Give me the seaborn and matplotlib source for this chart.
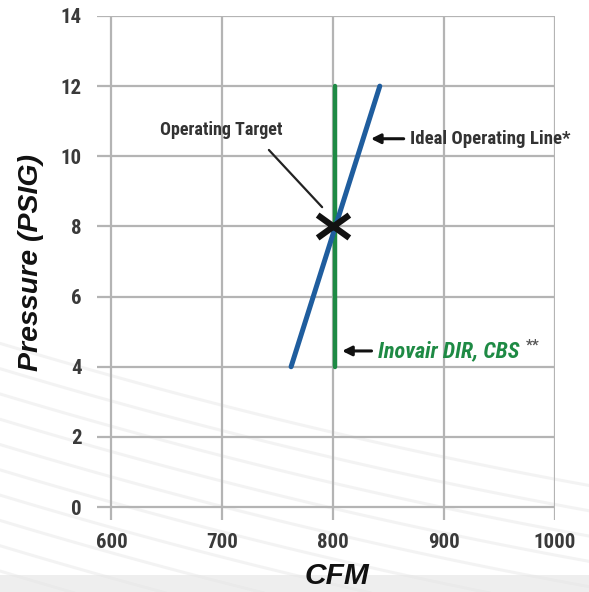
import matplotlib
matplotlib.use("Agg")
import matplotlib.pyplot as plt
from matplotlib.path import Path
from matplotlib.lines import Line2D
import seaborn as sns
import numpy as np
import pandas as pd

# Chart values
x_ticks = [600, 700, 800, 900, 1000]
y_ticks = [0, 2, 4, 6, 8, 10, 12, 14]

ideal_cfm = [762, 842]
ideal_psig = [4, 12]

inovair_cfm = [802, 802]
inovair_psig = [4, 12]

target_cfm = [800]
target_psig = [8]

sns.set_theme(style="white")
plt.rcParams["font.family"] = ["Liberation Sans", "DejaVu Sans"]

fig = plt.figure(figsize=(5.89, 5.92), dpi=100)
fig.patch.set_facecolor("white")

# faint decorative swooshes in the lower part of the page
t = np.linspace(0, 1, 60)
for start in np.linspace(0.42, -0.05, 12):
    yy = start - 0.30 * t + 0.06 * t ** 2
    fig.add_artist(Line2D(t, yy, transform=fig.transFigure, color="#e8e8e8",
                          lw=2.2, alpha=0.5, zorder=-5))
fig.add_artist(plt.Rectangle((0, 0), 1, 0.028, transform=fig.transFigure,
                             color="#e4e4e4", alpha=0.6, zorder=-4, lw=0))

ax = fig.add_axes([0.1647, 0.1216, 0.9423 - 0.1647, 0.973 - 0.1216])
ax.set_facecolor("none")

ax.set_xlim(587, 1000)
ax.set_ylim(-0.37, 14)

grid_color = "#b4b4b4"
for xv in x_ticks:
    ax.axvline(xv, color=grid_color, lw=1.6, zorder=0)
for yv in y_ticks:
    ax.axhline(yv, color=grid_color, lw=1.6, zorder=0)

for s in ax.spines.values():
    s.set_visible(False)

ideal = pd.DataFrame({"cfm": ideal_cfm, "psig": ideal_psig})
inovair = pd.DataFrame({"cfm": inovair_cfm, "psig": inovair_psig})
target = pd.DataFrame({"cfm": target_cfm, "psig": target_psig})

sns.lineplot(data=inovair, x="cfm", y="psig", ax=ax, color="#1e8a44", lw=3.2,
             sort=False, estimator=None, errorbar=None, zorder=3)
sns.lineplot(data=ideal, x="cfm", y="psig", ax=ax, color="#1f5d9e", lw=3.6,
             sort=False, estimator=None, errorbar=None, zorder=4)

# wide, flat cross for the operating target
cross = Path([(-1, -0.72), (1, 0.72), (-1, 0.72), (1, -0.72)],
             [Path.MOVETO, Path.LINETO, Path.MOVETO, Path.LINETO])
sns.scatterplot(data=target, x="cfm", y="psig", ax=ax, marker=cross, s=520,
                color="#111111", edgecolor="#111111", linewidth=4.5, zorder=5)

narrow = ["Roboto Condensed", "DejaVu Sans"]

ax.set_xticks(x_ticks)
ax.set_yticks(y_ticks)
ax.set_xticklabels([str(v) for v in x_ticks], family=narrow, fontweight="bold",
                   fontsize=15, color="#3a3a3a")
ax.set_yticklabels([str(v) for v in y_ticks], family=narrow, fontweight="bold",
                   fontsize=15, color="#3a3a3a")
ax.tick_params(axis="x", length=0, pad=9)
ax.tick_params(axis="y", length=0, pad=11)

ax.set_xlabel("CFM", fontsize=21.5, fontweight="bold", fontstyle="italic",
              color="#111111")
ax.xaxis.set_label_coords(0.524, -0.084)
ax.set_ylabel("Pressure (PSIG)", fontsize=20.5, fontweight="bold",
              fontstyle="italic", color="#111111")
ax.yaxis.set_label_coords(-0.115, 0.51)

# Operating target callout
ax.text(699, 10.75, "Operating Target", family=narrow, fontweight="bold",
        fontsize=13, color="#333333", ha="center", va="center")
ax.plot([742, 790], [10.18, 8.55], color="#222222", lw=1.6, zorder=4)

# Ideal operating line callout
ax.annotate("Ideal Operating Line*", xy=(834, 10.5), xytext=(869, 10.5),
            family=narrow, fontweight="bold", fontsize=13.5, color="#333333",
            ha="left", va="center",
            arrowprops=dict(arrowstyle="-|>", color="#111111", lw=2.2,
                            mutation_scale=14, shrinkA=2, shrinkB=0))

# Inovair callout
ax.annotate("Inovair DIR, CBS", xy=(808, 4.45), xytext=(840, 4.45),
            family=narrow, fontweight="bold", fontstyle="italic", fontsize=16,
            color="#1e8a44", ha="left", va="center",
            arrowprops=dict(arrowstyle="-|>", color="#111111", lw=2.2,
                            mutation_scale=14, shrinkA=2, shrinkB=0))
ax.text(974, 4.6, "**", family=narrow, fontweight="bold", fontsize=11,
        color="#555555", ha="left", va="center")

fig.savefig("out.png", dpi=100)
